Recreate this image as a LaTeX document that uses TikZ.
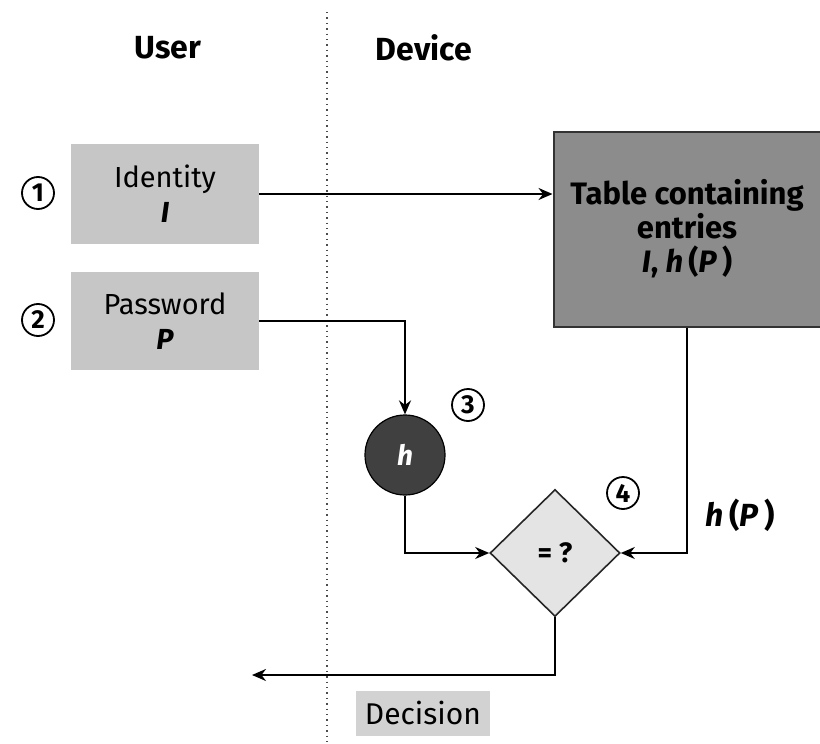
\documentclass[tikz,border=0pt]{standalone}
\usepackage{fontspec}
\setmainfont{Fira Sans}
\usetikzlibrary{shapes.geometric,arrows.meta}

\definecolor{lightbox}{HTML}{C6C6C6}
\definecolor{tablegray}{HTML}{8C8C8C}
\definecolor{hashgray}{HTML}{404040}
\definecolor{cmpgray}{HTML}{E4E4E4}
\definecolor{decgray}{HTML}{D2D2D2}

\tikzset{
  userbox/.style={fill=lightbox, minimum width=94pt, minimum height=50pt,
    align=center, inner sep=0pt, font=\fontsize{14.5}{17.5}\selectfont},
  stepnum/.style={circle, draw, line width=0.9pt, minimum size=16pt, inner sep=0pt,
    font=\fontsize{13}{13}\selectfont\bfseries},
  arr/.style={line width=1pt, -{Stealth[length=7pt,width=6pt]}},
  heading/.style={font=\fontsize{16}{16}\selectfont\bfseries}
}

\begin{document}
\begin{tikzpicture}[x=0.5pt,y=-0.5pt]
  \useasboundingbox (0,0) rectangle (820,744);

% lanes
  \draw [dotted, line width=0.7pt, black!70] (327,12) -- (327,744);
  \node [heading] (user) at (168,48) {User};
  \node [heading] (device) at (424,48) {Device};

% user side
  \node [userbox] (ident) at (165,194) {Identity\\\textbf{\textit{I}}};
  \node [userbox, minimum height=49pt] (pass) at (165,321) {Password\\\textbf{\textit{P}}};
  \node [stepnum] (one) at (38,193) {1};
  \node [stepnum] (two) at (38,320) {2};

% device side
  \node [fill=tablegray, draw=black!80, line width=1pt, minimum width=133.5pt, minimum height=97.5pt,
    align=center, inner sep=0pt, font=\fontsize{15.5}{17}\selectfont\bfseries]
    (table) at (687,229) {Table containing\\entries\\\textit{I}, \textit{h}\,(\textit{P}\,)};
  \node [circle, fill=hashgray, draw=black, line width=0.6pt, minimum size=40pt, inner sep=0pt,
    text=white, font=\fontsize{14}{14}\selectfont\bfseries\itshape] (hash) at (405,455) {h};
  \node [diamond, fill=cmpgray, draw=black!85, line width=0.8pt, minimum width=65pt, minimum height=63.5pt,
    inner sep=0pt, font=\fontsize{14}{14}\selectfont\bfseries] (cmp) at (555,553) {= ?};
  \node [stepnum] (three) at (468,405) {3};
  \node [stepnum] (four) at (623,493) {4};
  \node [fill=decgray, minimum width=67pt, minimum height=22.5pt, inner sep=0pt,
    font=\fontsize{15}{15}\selectfont] (dec) at (423,713) {Decision};
  \node [font=\fontsize{16}{16}\selectfont\bfseries] (hp) at (740,515) {\textit{h}\,(\textit{P}\,)};
  \coordinate (out) at (252,675);

% connectors
  \draw [arr] (ident.east) -- (ident.east -| table.west);
  \draw [arr] (pass.east) -| (hash.north);
  \draw [arr] (hash.south) |- (cmp.west);
  \draw [arr] (table.south) |- (cmp.east);
  \draw [arr] (cmp.south) |- (out);

\end{tikzpicture}
\end{document}
